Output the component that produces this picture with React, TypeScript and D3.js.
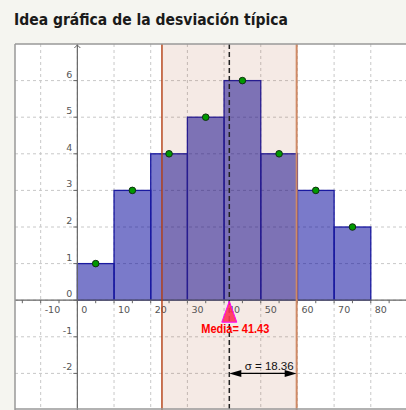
import React from 'react';
import * as d3 from 'd3';

// class intervals [lo, hi) and counts
const binStarts = [0, 10, 20, 30, 40, 50, 60, 70];
const binWidth = 10;
const counts = [1, 3, 4, 5, 6, 4, 3, 2];
const xGridValues = [-10, 0, 10, 20, 30, 40, 50, 60, 70, 80];
const xTickLabels = ['-10', '0', '10', '20', '30', '40', '50', '60', '70', '80'];
const xMinorTicks = [-15, -10, -5, 0, 5, 10, 15, 20, 25, 30, 35, 40, 45, 50, 55, 60, 65, 70, 75, 80, 85];
const yGridValues = [-2, -1, 0, 1, 2, 3, 4, 5, 6];
const yTickLabels = ['-2', '-1', '0', '1', '2', '3', '4', '5', '6'];
const title = 'Idea gráfica de la desviación típica';

const App = () => {
	const svgWidth = 406;
	const svgHeight = 410;
	const plot = { left: 15, top: 44, right: 406, bottom: 410 };

	const xScale = d3.scaleLinear().domain([-17, 89.6]).range([plot.left, plot.right]);
	const yScale = d3.scaleLinear().domain([7, -3]).range([plot.top, plot.bottom]);

	// mean and standard deviation from the class marks
	const mids = binStarts.map((d) => d + binWidth / 2);
	const n = d3.sum(counts);
	const mean = d3.sum(mids, (d, i) => d * counts[i]) / n;
	const sigma = Math.sqrt(d3.sum(mids, (d, i) => counts[i] * (d - mean) ** 2) / n);

	const xm = xScale(mean);
	const xl = xScale(mean - sigma);
	const xr = xScale(mean + sigma);
	const y0 = yScale(0);
	const ySigma = yScale(-2);

	return (
		<svg
			width={svgWidth}
			height={svgHeight}
			style={{ position: 'absolute', left: 0, top: 0 }}
			fontFamily='DejaVu Sans, Verdana, sans-serif'
		>
			<defs>
				<clipPath id='plot-clip'>
					<rect x={plot.left} y={plot.top} width={plot.right - plot.left} height={plot.bottom - plot.top} />
				</clipPath>
			</defs>
			<rect width={svgWidth} height={svgHeight} fill='#f5f5f0' />

			{/* --- TITLE --- */}
			<text
				x={14}
				y={25}
				fontSize={15}
				fontWeight='bold'
				fill='#1a1a1a'
				textLength={274}
				lengthAdjust='spacingAndGlyphs'
			>
				{title}
			</text>

			{/* --- PLOT AREA --- */}
			<rect x={plot.left} y={plot.top} width={plot.right - plot.left} height={plot.bottom - plot.top} fill='#ffffff' />

			<g clipPath='url(#plot-clip)'>
				{/* Grid */}
				<g className='grid-lines' stroke='#c8c8c8' strokeDasharray='3,3'>
					{xGridValues.map((v) => (
						<line key={'gx' + v} x1={xScale(v)} x2={xScale(v)} y1={plot.top} y2={plot.bottom} />
					))}
					{yGridValues.map((v) => (
						<line key={'gy' + v} x1={plot.left} x2={plot.right} y1={yScale(v)} y2={yScale(v)} />
					))}
				</g>

				{/* Bars */}
				<g className='bars'>
					{binStarts.map((d, i) => (
						<rect
							key={d}
							x={xScale(d)}
							y={yScale(counts[i])}
							width={xScale(d + binWidth) - xScale(d)}
							height={y0 - yScale(counts[i])}
							fill='#000099'
							fillOpacity={0.52}
							stroke='#1a1aa0'
							strokeWidth={1.3}
						/>
					))}
				</g>

				{/* Mean +- sigma band */}
				<rect x={xl} y={plot.top} width={xr - xl} height={plot.bottom - plot.top} fill='#993300' fillOpacity={0.1} />

				{/* Axes */}
				<g className='axes' stroke='#666666'>
					<line x1={plot.left} x2={plot.right} y1={y0} y2={y0} strokeWidth={1.2} />
					<line x1={xScale(0)} x2={xScale(0)} y1={plot.top} y2={plot.bottom} strokeWidth={1.2} />
					<path
						d={`M${xScale(0) - 3},${plot.top + 4} L${xScale(0)},${plot.top + 1} L${xScale(0) + 3},${plot.top + 4}`}
						fill='none'
						strokeWidth={1}
					/>
					{xMinorTicks.map((v) => (
						<line key={'tx' + v} x1={xScale(v)} x2={xScale(v)} y1={y0} y2={y0 + 3} />
					))}
					{yGridValues.map((v) => (
						<line key={'ty' + v} x1={xScale(0) - 4} x2={xScale(0)} y1={yScale(v)} y2={yScale(v)} />
					))}
				</g>

				{/* Tick labels */}
				<g className='tick-labels' fontSize={9.5} fill='#555555'>
					{xGridValues.map((v, i) => (
						<text key={'lx' + v} x={xScale(v) + 4} y={y0 + 13}>
							{xTickLabels[i]}
						</text>
					))}
					{yGridValues.map((v, i) => (
						<text key={'ly' + v} x={xScale(0) - 5} y={yScale(v) - 3} textAnchor='end'>
							{yTickLabels[i]}
						</text>
					))}
				</g>

				{/* Sigma boundary lines */}
				<line x1={xl} x2={xl} y1={plot.top} y2={plot.bottom} stroke='#b33d10' strokeWidth={1.4} />
				<line x1={xr} x2={xr} y1={plot.top} y2={plot.bottom} stroke='#cf8a66' strokeWidth={2} />

				{/* Mean line */}
				<line
					x1={xm}
					x2={xm}
					y1={plot.top}
					y2={plot.bottom}
					stroke='#222222'
					strokeWidth={1.5}
					strokeDasharray='5,3'
				/>

				{/* Class mark points */}
				<g className='points'>
					{mids.map((d, i) => (
						<circle
							key={d}
							cx={xScale(d)}
							cy={yScale(counts[i])}
							r={3.3}
							fill='#009900'
							stroke='#103010'
							strokeWidth={1}
						/>
					))}
				</g>

				{/* Mean marker */}
				<path
					d={`M${xm},${y0 + 1} L${xm + 7.5},${y0 + 22} L${xm - 7.5},${y0 + 22} Z`}
					fill='#ff3355'
					fillOpacity={0.9}
					stroke='#ff00ff'
					strokeWidth={1}
				/>
				<text
					x={xm - 28}
					y={y0 + 32.5}
					fontSize={12.5}
					fontWeight='bold'
					fill='#ff0000'
					fontFamily='Liberation Sans, Arial, sans-serif'
					textLength={68}
					lengthAdjust='spacingAndGlyphs'
				>
					{`Media= ${mean.toFixed(2)}`}
				</text>

				{/* Sigma arrow */}
				<g className='sigma'>
					<line x1={xm + 10} x2={xr - 10} y1={ySigma} y2={ySigma} stroke='#000000' strokeWidth={1.2} />
					<path d={`M${xm},${ySigma} L${xm + 12},${ySigma - 3.5} L${xm + 12},${ySigma + 3.5} Z`} fill='#000000' />
					<path d={`M${xr},${ySigma} L${xr - 12},${ySigma - 3.5} L${xr - 12},${ySigma + 3.5} Z`} fill='#000000' />
					<text
						x={xr - 3}
						y={ySigma - 3}
						textAnchor='end'
						fontSize={11.5}
						fill='#111111'
						fontFamily='Liberation Sans, Arial, sans-serif'
					>
						{`σ = ${sigma.toFixed(2)}`}
					</text>
				</g>
			</g>

			{/* Frame */}
			<line x1={plot.left} x2={plot.left} y1={plot.top} y2={plot.bottom} stroke='#999999' strokeWidth={1.5} />
			<line x1={plot.left} x2={plot.right} y1={plot.top} y2={plot.top} stroke='#999999' strokeWidth={1.5} />
			<line x1={plot.left} x2={plot.right} y1={plot.bottom - 1} y2={plot.bottom - 1} stroke='#999999' strokeWidth={1.5} />
		</svg>
	);
};

export default App;
